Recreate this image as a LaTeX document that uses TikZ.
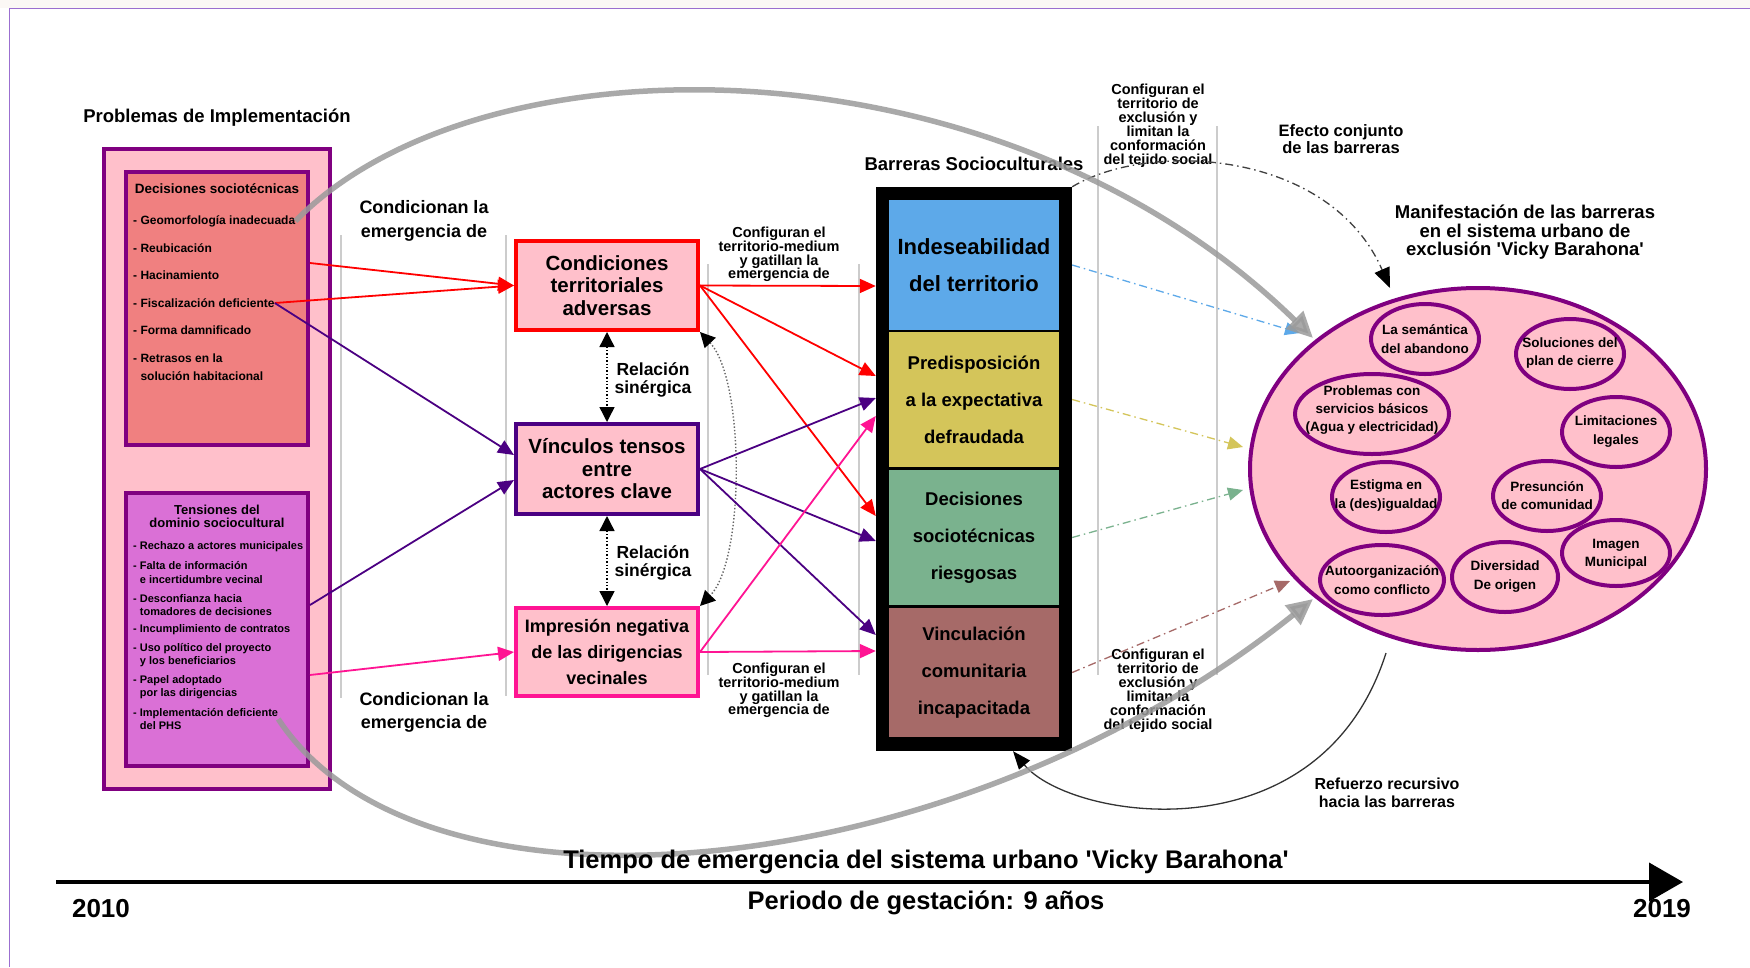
\documentclass[tikz,border=0pt]{standalone}
\usepackage{fontspec}
\setmainfont{Liberation Sans}
\usetikzlibrary{arrows.meta,shapes.geometric}

\definecolor{frm}{HTML}{9B6FD0}
\definecolor{strip}{HTML}{FBF8F5}
\definecolor{plum}{HTML}{800080}
\definecolor{rosa}{HTML}{FFC0CB}
\definecolor{coral}{HTML}{F08080}
\definecolor{orq}{HTML}{DA70D6}
\definecolor{indi}{HTML}{4B0082}
\definecolor{fucsia}{HTML}{FF1493}
\definecolor{azul}{HTML}{5DA9E9}
\definecolor{mostaza}{HTML}{D4C55A}
\definecolor{verde}{HTML}{7AB28E}
\definecolor{cafe}{HTML}{A66A68}
\definecolor{guia}{HTML}{CCCCCC}
\definecolor{arco}{HTML}{9A9A9A}

\newcommand\fsz[2]{\fontsize{#1}{#2}\selectfont}

\begin{document}
\begin{tikzpicture}[x=1pt,y=-1pt,
  txt/.style={inner sep=0pt, align=center},
  item/.style={inner sep=0pt, anchor=west, align=left},
  box/.style={draw, line width=4pt, fill=rosa, inner sep=0pt, align=center,
    minimum width=182pt},
  block/.style={inner sep=0pt, minimum width=170pt, align=center,
    font=\bfseries\fsz{18.5}{37}},
  guide/.style={guia, line width=1.5pt},
  flow/.style={line width=1.8pt, -{Triangle[length=16pt,width=14pt]}},
  syn/.style={dotted, line width=1.4pt,
    {Triangle[length=15pt,width=15pt,color=black,fill=black]}-{Triangle[length=15pt,width=15pt,color=black,fill=black]}},
  rim/.style={draw=plum, line width=4pt, ellipse, inner sep=0pt},
  ddot/.style={dash pattern=on 8pt off 4pt on 1.5pt off 4pt, line width=1.3pt,
    -{Triangle[length=15pt,width=13pt]}},
  bigarc/.style={arco, opacity=0.85, line width=5.5pt,
    -{Triangle[length=26pt,width=24pt]}},
]
\useasboundingbox (0,0) rectangle (1750,967);
\fill[white] (0,0) rectangle (1750,967);
\fill[strip] (0,0) rectangle (1750,8);
\draw[frm, line width=1.2pt] (1750,8.5) -- (9.5,8.5) -- (9.5,967);

% thin vertical guides
\draw[guide] (341,235) -- (341,698);
\draw[guide] (506,235) -- (506,696);
\draw[guide] (708,264) -- (708,675);
\draw[guide] (859,264) -- (859,675);
\draw[guide] (1098,126) -- (1098,675);
\draw[guide] (1217,126) -- (1217,675);

% ---------- implementation problems ----------
\node[txt, font=\bfseries\fsz{18.5}{22}] (tprob) at (217,118) {Problemas de Implementación};
\node[draw=plum, line width=4pt, fill=rosa, inner sep=0pt,
  minimum width=226pt, minimum height=640pt] (prob) at (217,469) {};
\node[draw=plum, line width=4pt, fill=coral, inner sep=0pt,
  minimum width=182pt, minimum height=273pt] (dec) at (217,308.5) {};
\node[draw=plum, line width=4pt, fill=orq, inner sep=0pt,
  minimum width=182pt, minimum height=273pt] (ten) at (217,629.5) {};

\node[txt, font=\bfseries\fsz{13.5}{16}] (tdec) at (217,189) {Decisiones sociotécnicas};
\begin{scope}[every node/.append style={font=\bfseries\fsz{12}{18}}]
  \node[item] (geo)  at (133,221) {- Geomorfología inadecuada};
  \node[item] (reub) at (133,248) {- Reubicación};
  \node[item] (haci) at (133,275) {- Hacinamiento};
  \node[item] (fisc) at (133,303) {- Fiscalización deficiente};
  \node[item] (form) at (133,330) {- Forma damnificado};
  \node[item] (retr) at (133,367) {- Retrasos en la\\\phantom{- }solución habitacional};
\end{scope}

\node[txt, font=\bfseries\fsz{13}{13}] (tten) at (217,516.5) {Tensiones del\\dominio sociocultural};
\begin{scope}[every node/.append style={font=\bfseries\fsz{11}{13.5}}]
  \node[item] (rech) at (133,547) {- Rechazo a actores municipales};
  \node[item] (falt) at (133,572.5) {- Falta de información\\\phantom{- }e incertidumbre vecinal};
  \node[item] (desc) at (133,605) {- Desconfianza hacia\\\phantom{- }tomadores de decisiones};
  \node[item] (incu) at (133,630) {- Incumplimiento de contratos};
  \node[item] (usop) at (133,655) {- Uso político del proyecto\\\phantom{- }y los beneficiarios};
  \node[item] (pape) at (133,687) {- Papel adoptado\\\phantom{- }por las dirigencias};
  \node[item] (impl) at (133,719) {- Implementación deficiente\\\phantom{- }del PHS};
\end{scope}

% ---------- intermediate conditions ----------
\node[txt, font=\bfseries\fsz{18}{23.5}] (cond1) at (424,221) {Condicionan la\\emergencia de};
\node[txt, font=\bfseries\fsz{18}{23.5}] (cond2) at (424,712.5) {Condicionan la\\emergencia de};

\node[box, draw=red, minimum height=89pt, font=\bfseries\fsz{20.5}{22.5}] (cta) at (607,285.5)
  {Condiciones\\territoriales\\adversas};
\node[box, draw=indi, minimum height=90pt, font=\bfseries\fsz{20.5}{22.5}] (vin) at (607,469)
  {Vínculos tensos\\entre\\actores clave};
\node[box, draw=fucsia, minimum height=88pt, font=\bfseries\fsz{18}{26}] (imp) at (607,652)
  {Impresión negativa\\de las dirigencias\\vecinales};

\node[txt, font=\bfseries\fsz{17.5}{18}] (syn1) at (653,380) {Relación\\sinérgica};
\node[txt, font=\bfseries\fsz{17.5}{18}] (syn2) at (653,563) {Relación\\sinérgica};

\node[txt, font=\bfseries\fsz{14.5}{13.7}] (cfg1) at (779,254.5)
  {Configuran el\\territorio-medium\\y gatillan la\\emergencia de};
\node[txt, font=\bfseries\fsz{14.5}{13.7}] (cfg2) at (779,690.5)
  {Configuran el\\territorio-medium\\y gatillan la\\emergencia de};

% ---------- sociocultural barriers ----------
\node[txt, font=\bfseries\fsz{18.5}{22}] (btit) at (974,164) {Barreras Socioculturales};
\node[fill=black, inner sep=0pt, minimum width=196pt, minimum height=564pt] (barr) at (974,469) {};
\node[block, fill=azul, minimum height=130pt, font=\bfseries\fsz{22}{37}] (ind) at (974,265)
  {Indeseabilidad\\del territorio};
\node[block, fill=mostaza, minimum height=135pt] (pre) at (974,399.5)
  {Predisposición\\a la expectativa\\defraudada};
\node[block, fill=verde, minimum height=135pt] (dsr) at (974,537.5)
  {Decisiones\\sociotécnicas\\riesgosas};
\node[block, fill=cafe, minimum height=129pt] (vci) at (974,672.5)
  {Vinculación\\comunitaria\\incapacitada};

\node[txt, font=\bfseries\fsz{14.5}{14}] (exc1) at (1158,126)
  {Configuran el\\territorio de\\exclusión y\\limitan la\\conformación\\del tejido social};
\node[txt, font=\bfseries\fsz{14.5}{14}] (exc2) at (1158,690.5)
  {Configuran el\\territorio de\\exclusión y\\limitan la\\conformación\\del tejido social};

\node[txt, font=\bfseries\fsz{16.5}{17}] (efe) at (1341,139.5) {Efecto conjunto\\de las barreras};

% ---------- manifestation in the urban system ----------
\node[txt, font=\bfseries\fsz{18.5}{18.5}] (mtit) at (1525,232.5)
  {Manifestación de las barreras\\en el sistema urbano de\\exclusión \textquotesingle Vicky Barahona\textquotesingle};
\node[rim, fill=rosa, minimum width=456pt, minimum height=362pt] (manif) at (1478,469) {};

\begin{scope}[every node/.append style={font=\bfseries\fsz{13.5}{18.3}}]
  \node[rim, minimum width=108pt, minimum height=70pt] (e1) at (1425,339) {};
  \node[txt] at (1425,339) {La semántica\\del abandono};
  \node[rim, minimum width=108pt, minimum height=70pt] (e2) at (1570,354) {};
  \node[txt] at (1570,353) {Soluciones del\\plan de cierre};
  \node[rim, minimum width=154pt, minimum height=80pt] (e3) at (1372,414) {};
  \node[txt] at (1372,410) {Problemas con\\servicios básicos\\(Agua y electricidad)};
  \node[rim, minimum width=108pt, minimum height=70pt] (e4) at (1616,432) {};
  \node[txt] at (1616,431.5) {Limitaciones\\legales};
  \node[rim, minimum width=108pt, minimum height=70pt] (e5) at (1386,497) {};
  \node[txt] at (1386,495.5) {Estigma en\\la (des)igualdad};
  \node[rim, minimum width=108pt, minimum height=70pt] (e6) at (1547,496) {};
  \node[txt] at (1547,495.5) {Presunción\\de comunidad};
  \node[rim, minimum width=108pt, minimum height=66pt] (e7) at (1616,553) {};
  \node[txt] at (1616,554) {Imagen\\Municipal};
  \node[rim, minimum width=124pt, minimum height=70pt] (e8) at (1382,580) {};
  \node[txt] at (1382,580) {Autoorganización\\como conflicto};
  \node[rim, minimum width=106pt, minimum height=70pt] (e9) at (1505,577) {};
  \node[txt] at (1505,576.5) {Diversidad\\De origen};
\end{scope}

% ---------- connectors: problems -> conditions ----------
\coordinate (dr)  at (310,263);
\coordinate (dt1) at (310,605);
\coordinate (dt2) at (310,675);
\draw[flow, red] (dr) -- (cta.west);
\draw[flow, red] (fisc.east) -- (cta.west);
\draw[flow, indi] (fisc.east) -- ([yshift=14pt]vin.west);
\draw[flow, indi] (dt1) -- ([yshift=-11pt]vin.west);
\draw[flow, fucsia] (dt2) -- (imp.west);

% synergy between conditions
\draw[syn] (cta.south) -- (vin.north);
\draw[syn] (vin.south) -- (imp.north);
\draw[syn, black!60] (cta.south east) .. controls (745,380) and (745,560) .. (imp.north east);

% ---------- connectors: conditions -> barriers ----------
\draw[flow, red] (cta.east) -- ([yshift=183pt]barr.west);
\draw[flow, red] (cta.east) -- ([yshift=93pt]barr.west);
\draw[flow, red] (cta.east) -- ([yshift=-47pt]barr.west);
\draw[flow, indi] (vin.east) -- ([yshift=71pt]barr.west);
\draw[flow, indi] (vin.east) -- ([yshift=-72pt]barr.west);
\draw[flow, indi] (vin.east) -- ([yshift=-166pt]barr.west);
\draw[flow, fucsia] (imp.east) -- ([yshift=53pt]barr.west);
\draw[flow, fucsia] (imp.east) -- ([yshift=-182pt]barr.west);

% ---------- connectors: barriers -> manifestation ----------
\coordinate (mi1) at (1300,333);
\coordinate (mi2) at (1243,447);
\coordinate (mi3) at (1243,490);
\coordinate (mi4) at (1290,581);
\coordinate (efc) at (1390,288);
\draw[ddot, azul] (barr.east |- ind) -- (mi1);
\draw[ddot, mostaza] (barr.east |- pre) -- (mi2);
\draw[ddot, verde] (barr.east |- dsr) -- (mi3);
\draw[ddot, cafe] (barr.east |- vci) -- (mi4);
\draw[ddot, black!75, -{Triangle[length=20pt,width=16pt,black]}]
  (barr.north east) .. controls (1150,140) and (1330,150) .. (efc);

% recursive reinforcement
\coordinate (rf0) at (1386,653);
\draw[line width=1.3pt, black!80, -{Triangle[length=18pt,width=14pt,black]}]
  (rf0) .. controls (1320,860) and (1070,820) .. ([xshift=39pt]barr.south);
\node[txt, font=\bfseries\fsz{16}{18}] (rtxt) at (1387,792.5) {Refuerzo recursivo\\hacia las barreras};

% long-range effects of implementation problems
\coordinate (ma) at (1313,338);
\coordinate (mb) at (1313,599);
\draw[bigarc] (geo.east) .. controls (480,32) and (1000,32) .. (ma);
\draw[bigarc] (impl.east) .. controls (420,935) and (950,890) .. (mb);

% ---------- timeline ----------
\coordinate (t0) at (56,882);
\coordinate (t1) at (1683,882);
\draw[line width=4pt, -{Triangle[length=34pt,width=38pt]}] (t0) -- (t1);
\node[txt, font=\bfseries\fsz{25.5}{28}] (ttime) at (926,862)
  {Tiempo de emergencia del sistema urbano \textquotesingle Vicky Barahona\textquotesingle};
\node[txt, font=\bfseries\fsz{25.5}{28}] (tper) at (926,903) {Periodo de gestación: 9 años};
\node[txt, font=\bfseries\fsz{26}{28}] (y0) at (101,909) {2010};
\node[txt, font=\bfseries\fsz{26}{28}] (y1) at (1662,909) {2019};
\end{tikzpicture}
\end{document}
